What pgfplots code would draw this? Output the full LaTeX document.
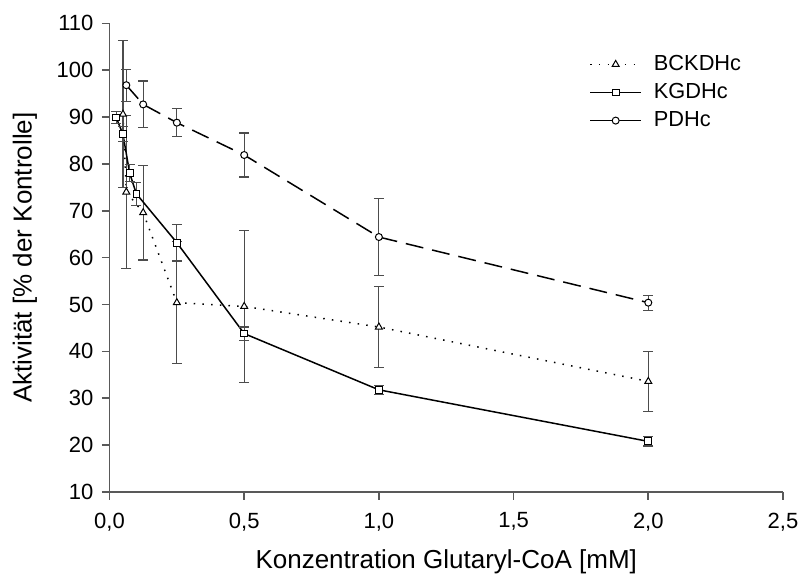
\documentclass[border=0pt]{standalone}
\usepackage{fontspec}
\setmainfont{Liberation Sans}
\usepackage{pgfplots}
\usepackage{pgfplotstable}
\pgfplotsset{compat=1.18}

\pgfplotstableread{
x      y     e
0.05   90.6  15.7
0.0625 74.0  16.3
0.125  69.6  10.1
0.25   50.4  13.0
0.5    49.6  16.2
1.0    45.2  8.6
2.0    33.6  6.4
}\bckdhc

\pgfplotstableread{
x      y     e
0.025  89.9  1.3
0.05   86.3  1.6
0.075  78.0  1.8
0.1    73.6  2.4
0.25   63.2  3.9
0.5    43.8  1.4
1.0    31.8  1.0
2.0    20.8  1.0
}\kgdhc

\pgfplotstableread{
x      y     e
0.0625 96.8  3.4
0.125  92.7  5.0
0.25   88.8  3.0
0.5    81.9  4.7
1.0    64.4  8.2
2.0    50.4  1.6
}\pdhc

\begin{document}
\begin{tikzpicture}
\begin{axis}[
  at={(0,0)}, anchor=south west,
  scale only axis, width=336.75pt, height=234.35pt,
  xmin=0, xmax=2.5, ymin=10, ymax=110,
  axis x line*=bottom, axis y line*=left,
  axis line style={draw=black!65, line width=0.8pt, -},
  xtick={0,0.5,1,1.5,2,2.5}, ytick={10,20,...,110},
  tick align=outside, major tick length=3.8pt,
  tick style={draw=black!65, line width=0.8pt},
  /pgf/number format/assume math mode=true,
  ticklabel style={font=\fontsize{11}{13}\selectfont},
  yticklabel style={xshift=-0.7pt},
  xticklabel style={yshift=-3pt, /pgf/number format/.cd, use comma, fixed, fixed zerofill, precision=1},
  every axis y label/.style={at={([xshift=-42.25pt]axis description cs:0,0.5)}, rotate=90, anchor=center, font=\fontsize{13}{15}\selectfont},
  every axis x label/.style={at={([yshift=-35pt]axis description cs:0.5,0)}, anchor=center, font=\fontsize{13}{15}\selectfont},
  xlabel={Konzentration Glutaryl-CoA [mM]},
  ylabel={Aktivität [\% der Kontrolle]},
  legend style={draw=none, fill=none, at={(axis cs:1.78,103.45)}, anchor=north west,
    font=\fontsize{10.9}{13}\selectfont, inner sep=0pt,
    nodes={inner sep=0pt, text height=8pt, text depth=2pt},
    row sep=4.05pt, column sep=6pt},
  legend cell align=left,
  legend image code/.code={\draw[mark repeat=2,mark phase=2] plot coordinates {(0pt,0pt) (12.75pt,0pt) (25.5pt,0pt)};},
  clip=false,
  every axis plot/.append style={line width=0.75pt},
  error bars/error bar style={draw=black!70, line width=0.6pt, solid},
  error bars/error mark options={rotate=90, mark size=2.5pt, draw=black!70, line width=0.6pt, solid},
]
\addplot[black, dash pattern=on 0.75pt off 3.6pt, mark=triangle*, mark size=2pt,
  mark options={solid, fill=white, draw=black, line width=0.5pt},
  error bars/.cd, y dir=both, y explicit]
  table[x=x, y=y, y error=e] {\bckdhc};
\addlegendentry{BCKDHc}
\addplot[black, solid, mark=square*, mark size=1.7pt,
  mark options={solid, fill=white, draw=black, line width=0.5pt},
  error bars/.cd, y dir=both, y explicit]
  table[x=x, y=y, y error=e] {\kgdhc};
\addlegendentry{KGDHc}
\addplot[black, dash pattern=on 9pt off 4.5pt, mark=*, mark size=1.75pt,
  mark options={solid, fill=white, draw=black, line width=0.5pt},
  legend image post style={solid},
  error bars/.cd, y dir=both, y explicit]
  table[x=x, y=y, y error=e] {\pdhc};
\addlegendentry{PDHc}
\end{axis}
\pgfresetboundingbox
\path[use as bounding box] (-54.75pt,-44pt) rectangle (344.75pt,246pt);
\end{tikzpicture}
\end{document}
